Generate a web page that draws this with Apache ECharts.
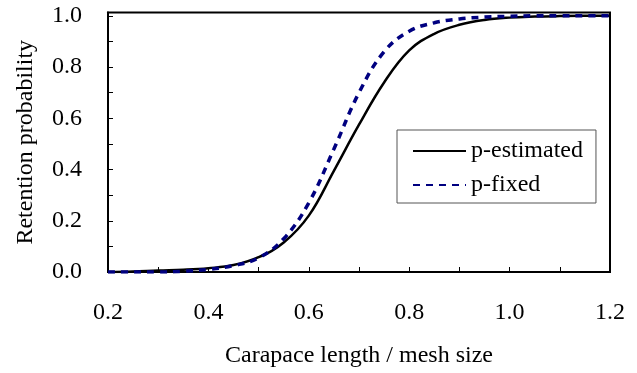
<!DOCTYPE html>
<html>
<head>
<meta charset="utf-8">
<script src="https://cdn.jsdelivr.net/npm/echarts@6/dist/echarts.min.js"></script>
<style>
  html, body { margin: 0; padding: 0; background: #fff; }
  #chart { width: 637px; height: 373px; }
</style>
</head>
<body>
<div id="chart"></div>
<script>
// carapace length / mesh size
const ratio = [0.2, 0.25, 0.3, 0.35, 0.4, 0.45, 0.5, 0.55, 0.6, 0.65, 0.7,
  0.75, 0.8, 0.85, 0.9, 0.95, 1.0, 1.05, 1.1, 1.15, 1.2];
// retention probability
const pEstimated = [0.0, 0.002, 0.006, 0.009, 0.015, 0.027, 0.058, 0.115, 0.22, 0.395, 0.575,
  0.74, 0.865, 0.93, 0.965, 0.984, 0.993, 0.997, 0.999, 1.0, 1.0];
const pFixed = [0.0, 0.0, 0.0, 0.003, 0.01, 0.025, 0.055, 0.13, 0.27, 0.48, 0.7,
  0.86, 0.94, 0.973, 0.988, 0.995, 0.998, 1.0, 1.0, 1.0, 1.0];

const font = "'Liberation Serif', 'Times New Roman', serif";
const pairs = (ys) => ratio.map((x, i) => [x, ys[i]]);
const evenLabel = (v) => (Math.round(v * 10) % 2 === 0 ? v.toFixed(1) : "");

let chart = echarts.init(document.getElementById("chart"));
let option = {
  animation: false,
  grid: {
    left: 108, right: 27, top: 12.5, bottom: 100,
    show: true, borderColor: "#000", borderWidth: 2,
  },
  legend: {
    orient: "vertical",
    left: 397, top: 130,
    padding: [9, 13, 6, 15],
    itemWidth: 53, itemHeight: 14, itemGap: 10,
    borderColor: "#555", borderWidth: 1,
    itemStyle: { color: "transparent", borderWidth: 0, opacity: 0 },
    textStyle: { fontFamily: font, fontSize: 24, color: "#000" },
    data: ["p-estimated", "p-fixed"],
  },
  xAxis: {
    type: "value",
    min: 0.2, max: 1.2, interval: 0.1,
    name: "Carapace length / mesh size",
    nameLocation: "middle", nameGap: 72,
    nameTextStyle: { fontFamily: font, fontSize: 24, color: "#000" },
    axisLine: { lineStyle: { color: "#000", width: 2 } },
    axisTick: { inside: true, length: 5, lineStyle: { color: "#000" } },
    axisLabel: { margin: 29, fontFamily: font, fontSize: 24, color: "#000", formatter: evenLabel },
    splitLine: { show: false },
  },
  yAxis: {
    type: "value",
    min: 0, max: 1.013, interval: 0.1,
    name: "Retention probability",
    nameLocation: "middle", nameGap: 70,
    nameTextStyle: { fontFamily: font, fontSize: 24, color: "#000" },
    axisLine: { lineStyle: { color: "#000", width: 2 } },
    axisTick: { inside: true, length: 5, lineStyle: { color: "#000" } },
    axisLabel: { margin: 26, fontFamily: font, fontSize: 24, color: "#000",
      showMaxLabel: false, formatter: evenLabel },
    splitLine: { show: false },
  },
  series: [
    {
      name: "p-estimated",
      type: "line",
      symbol: "none",
      smooth: 0.4,
      lineStyle: { color: "#000", width: 2.5, type: "solid" },
      itemStyle: { color: "#000" },
      data: pairs(pEstimated),
    },
    {
      name: "p-fixed",
      type: "line",
      symbol: "none",
      smooth: 0.4,
      lineStyle: { color: "#000080", width: 3.5, type: [7, 6] },
      itemStyle: { color: "#000080" },
      data: pairs(pFixed),
    },
  ],
};
option && chart.setOption(option);
</script>
</body>
</html>
